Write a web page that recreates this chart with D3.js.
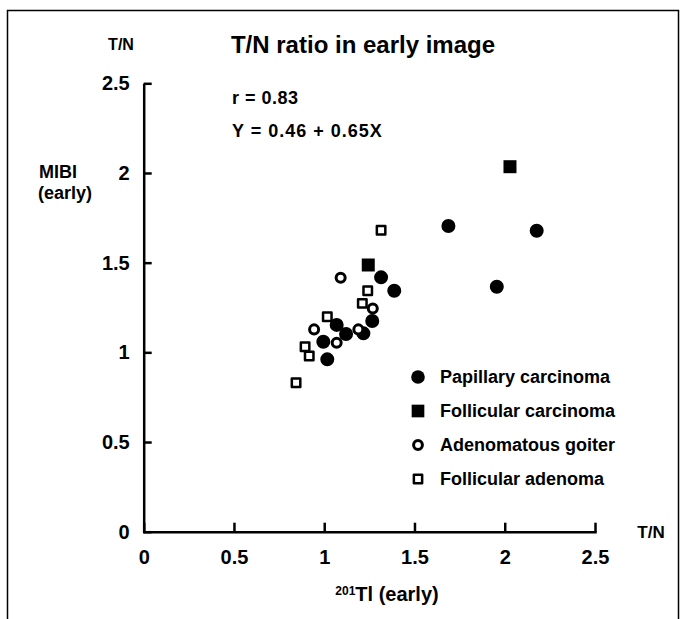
<!DOCTYPE html>
<html>
<head>
<meta charset="utf-8">
<script src="https://cdn.jsdelivr.net/npm/d3@7"></script>
<style>
    body { margin: 0; background: #fff; }
    text { font-family: "Liberation Sans", Arial, sans-serif; font-weight: bold; fill: #000; }
</style>
</head>
<body>
<div id="chart"></div>
<script>
// data (T/N ratios, 201Tl early vs MIBI early)
const groups = ['Papillary carcinoma', 'Follicular carcinoma', 'Adenomatous goiter', 'Follicular adenoma'];

const papillaryTl   = [1.315, 1.388, 1.266, 1.069, 1.121, 1.217, 0.995, 1.017, 1.688, 2.177, 1.956];
const papillaryMibi = [1.418, 1.343, 1.175, 1.153, 1.102, 1.106, 1.059, 0.961, 1.704, 1.678, 1.366];

const follicularTl   = [1.244, 2.029];
const follicularMibi = [1.487, 2.035];

const goiterTl   = [1.091, 1.269, 0.944, 1.189, 1.069];
const goiterMibi = [1.416, 1.245, 1.128, 1.128, 1.054];

const adenomaTl   = [1.315, 1.241, 1.211, 1.017, 0.894, 0.917, 0.844];
const adenomaMibi = [1.681, 1.343, 1.273, 1.198, 1.031, 0.979, 0.831];

const tickValues = [0, 0.5, 1, 1.5, 2, 2.5];

const draw = () => {
    const dimensions = {
        width: 687,
        height: 619,
        margin: { top: 83.3, bottom: 87.3, left: 143.7, right: 92 }
    };
    dimensions.containerWidth = dimensions.width - dimensions.margin.left - dimensions.margin.right;
    dimensions.containerHeight = dimensions.height - dimensions.margin.top - dimensions.margin.bottom;

    const svg = d3.select('#chart')
        .append('svg')
        .attr('width', dimensions.width)
        .attr('height', dimensions.height);

    // frame (bottom edge runs off the page)
    svg.append('rect')
        .attr('x', 7.5).attr('y', 10.5)
        .attr('width', 671).attr('height', 700)
        .attr('fill', 'none').attr('stroke', '#000').attr('stroke-width', 1.5);

    const container = svg.append('g')
        .attr('transform', `translate(${dimensions.margin.left}, ${dimensions.margin.top})`);

    // scales
    const xScale = d3.scaleLinear().domain([0, 2.5]).range([0, dimensions.containerWidth]);
    const yScale = d3.scaleLinear().domain([0, 2.5]).range([dimensions.containerHeight, 0]);

    // axes
    const xAxis = d3.axisBottom(xScale)
        .tickValues(tickValues)
        .tickSizeInner(-9)
        .tickSizeOuter(0)
        .tickPadding(18)
        .tickFormat(d => d);

    const xAxisGroup = container.append('g')
        .attr('transform', `translate(0, ${dimensions.containerHeight})`)
        .call(xAxis);

    const yAxis = d3.axisLeft(yScale)
        .tickValues(tickValues)
        .tickSizeInner(-8)
        .tickSizeOuter(0)
        .tickPadding(14)
        .tickFormat(d => d);

    const yAxisGroup = container.append('g').call(yAxis);

    [xAxisGroup, yAxisGroup].forEach(g => {
        g.selectAll('path, line').attr('stroke', '#000').attr('stroke-width', 2.5);
        g.selectAll('text')
            .style('font-family', '"Liberation Sans", Arial, sans-serif')
            .style('font-weight', 'bold')
            .style('font-size', '20px')
            .attr('fill', '#000');
    });
    xAxisGroup.select('.domain').attr('stroke-linecap', 'square');

    // points
    const symbolFor = {
        'Papillary carcinoma': { type: d3.symbolCircle, size: 154, fill: '#000', stroke: 'none', sw: 0 },
        'Follicular carcinoma': { type: d3.symbolSquare, size: 169, fill: '#000', stroke: 'none', sw: 0 },
        'Adenomatous goiter': { type: d3.symbolCircle, size: 64, fill: '#fff', stroke: '#000', sw: 3 },
        'Follicular adenoma': { type: d3.symbolSquare, size: 72, fill: '#fff', stroke: '#000', sw: 2.5 }
    };

    const series = [
        { name: groups[0], xs: papillaryTl, ys: papillaryMibi },
        { name: groups[1], xs: follicularTl, ys: follicularMibi },
        { name: groups[2], xs: goiterTl, ys: goiterMibi },
        { name: groups[3], xs: adenomaTl, ys: adenomaMibi }
    ];

    series.forEach(s => {
        const st = symbolFor[s.name];
        const pts = s.xs.map((x, i) => ({ x, y: s.ys[i] }));
        container.append('g')
            .selectAll('path')
            .data(pts)
            .join('path')
            .attr('d', d3.symbol(st.type, st.size))
            .attr('transform', d => `translate(${xScale(d.x)}, ${yScale(d.y)})`)
            .attr('fill', st.fill)
            .attr('stroke', st.stroke)
            .attr('stroke-width', st.sw)
            .attr('stroke-linejoin', 'round');
    });

    // legend
    const legend = svg.append('g').attr('transform', 'translate(418, 377)');
    const legendItems = legend.selectAll('g')
        .data(groups)
        .join('g')
        .attr('transform', (d, i) => `translate(0, ${i * 34})`);

    legendItems.append('path')
        .attr('d', d => d3.symbol(symbolFor[d].type, symbolFor[d].size * 0.95)())
        .attr('fill', d => symbolFor[d].fill)
        .attr('stroke', d => symbolFor[d].stroke)
        .attr('stroke-width', d => symbolFor[d].sw)
        .attr('stroke-linejoin', 'round');

    legendItems.append('text')
        .attr('x', 22)
        .attr('dy', '0.35em')
        .style('font-size', '18px')
        .text(d => d);

    // titles and annotations
    svg.append('text')
        .attr('x', 363).attr('y', 53)
        .attr('text-anchor', 'middle')
        .style('font-size', '24px')
        .text('T/N ratio in early image');

    svg.append('text')
        .attr('x', 121).attr('y', 50)
        .attr('text-anchor', 'middle')
        .style('font-size', '16px')
        .text('T/N');

    svg.append('text')
        .attr('x', 232).attr('y', 104)
        .style('font-size', '18px')
        .style('letter-spacing', '0.5px')
        .text('r = 0.83');

    svg.append('text')
        .attr('x', 232).attr('y', 137)
        .style('font-size', '18px')
        .style('letter-spacing', '1px')
        .text('Y = 0.46 + 0.65X');

    svg.append('text')
        .attr('x', 58).attr('y', 178)
        .attr('text-anchor', 'middle')
        .style('font-size', '18px')
        .text('MIBI');

    svg.append('text')
        .attr('x', 65).attr('y', 199)
        .attr('text-anchor', 'middle')
        .style('font-size', '18px')
        .text('(early)');

    svg.append('text')
        .attr('x', 651).attr('y', 538)
        .attr('text-anchor', 'middle')
        .style('font-size', '17px')
        .text('T/N');

    const xTitle = svg.append('text')
        .attr('x', 387).attr('y', 601)
        .attr('text-anchor', 'middle')
        .style('font-size', '20px');
    xTitle.append('tspan')
        .attr('dy', '-6')
        .style('font-size', '12px')
        .text('201');
    xTitle.append('tspan')
        .attr('dy', '6')
        .text('Tl (early)');
};

draw();
</script>
</body>
</html>
